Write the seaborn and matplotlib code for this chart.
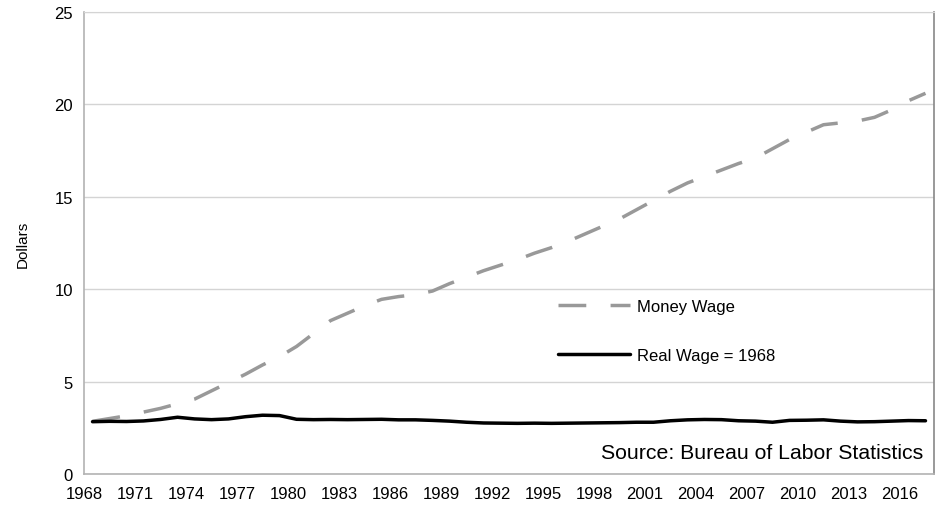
import numpy as np
import pandas as pd
import matplotlib.pyplot as plt
import seaborn as sns

years = list(range(1968, 2018))
money_wage = [2.85, 3.0, 3.15, 3.35, 3.55, 3.8, 4.05, 4.5, 4.95, 5.4,
              5.9, 6.35, 6.9, 7.6, 8.3, 8.7, 9.1, 9.45, 9.6, 9.7,
              9.9, 10.3, 10.65, 11.0, 11.3, 11.6, 11.95, 12.25, 12.6, 13.0,
              13.4, 13.8, 14.3, 14.8, 15.3, 15.75, 16.1, 16.45, 16.8, 17.1,
              17.6, 18.1, 18.5, 18.9, 19.0, 19.1, 19.3, 19.7, 20.2, 20.6]
real_wage = [2.83, 2.85, 2.84, 2.87, 2.95, 3.07, 2.98, 2.94, 2.98, 3.1,
             3.18, 3.16, 2.96, 2.94, 2.95, 2.94, 2.95, 2.96, 2.93, 2.93,
             2.9, 2.86, 2.8, 2.76, 2.75, 2.74, 2.75, 2.74, 2.75, 2.76,
             2.77, 2.78, 2.8, 2.8, 2.88, 2.93, 2.95, 2.94, 2.88, 2.86,
             2.8, 2.9, 2.91, 2.93, 2.86, 2.82, 2.83, 2.86, 2.89, 2.88]
tick_years = list(range(1968, 2017, 3))

df = pd.DataFrame({'year': years, 'money': money_wage, 'real': real_wage})
# category-style axis: points sit in the middle of each year slot
df['x'] = df['year'] + 0.5

sns.set_style('white')
plt.rcParams['font.family'] = ['Liberation Sans', 'DejaVu Sans']
plt.rcParams['text.color'] = 'black'
plt.rcParams['xtick.color'] = 'black'
plt.rcParams['ytick.color'] = 'black'

fig = plt.figure(figsize=(9.42, 5.06), dpi=100)
ax = fig.add_axes([0.0892, 0.0613, 0.9023, 0.913])

sns.lineplot(data=df, x='x', y='money', ax=ax, color='#999999', linewidth=2.5,
             label='Money Wage')
ax.lines[-1].set_dashes([8, 7])
sns.lineplot(data=df, x='x', y='real', ax=ax, color='black', linewidth=2.5,
             label='Real Wage = 1968')

ax.set_xlim(1968, 2018)
ax.set_ylim(0, 25)
ax.set_yticks([0, 5, 10, 15, 20, 25])
ax.set_xticks(tick_years)
ax.set_xticklabels([str(y) for y in tick_years])
ax.yaxis.grid(True, color='#d4d4d4', linewidth=1)
ax.set_axisbelow(True)

for s in ['left', 'bottom']:
    ax.spines[s].set_color('#b3b3b3')
    ax.spines[s].set_linewidth(1.2)
ax.spines['top'].set_color('#d4d4d4')
ax.spines['right'].set_color('#888888')
ax.spines['right'].set_linewidth(1.2)
ax.tick_params(axis='both', length=6, width=1, color='#b3b3b3',
               labelsize=12, direction='out', pad=2, labelcolor='black')
ax.tick_params(axis='x', pad=3)

ax.set_xlabel('')
ax.set_ylabel('Dollars', fontsize=11, labelpad=18, color='black')

leg = ax.legend(loc='upper left', bbox_to_anchor=(0.558, 0.379), frameon=False,
                fontsize=12, handlelength=4.3, handletextpad=0.42,
                labelspacing=2.05, borderpad=0, borderaxespad=0)

ax.text(0.987, 0.025, 'Source: Bureau of Labor Statistics', transform=ax.transAxes,
        ha='right', va='bottom', fontsize=15.3)

fig.savefig('out.png', dpi=100)
